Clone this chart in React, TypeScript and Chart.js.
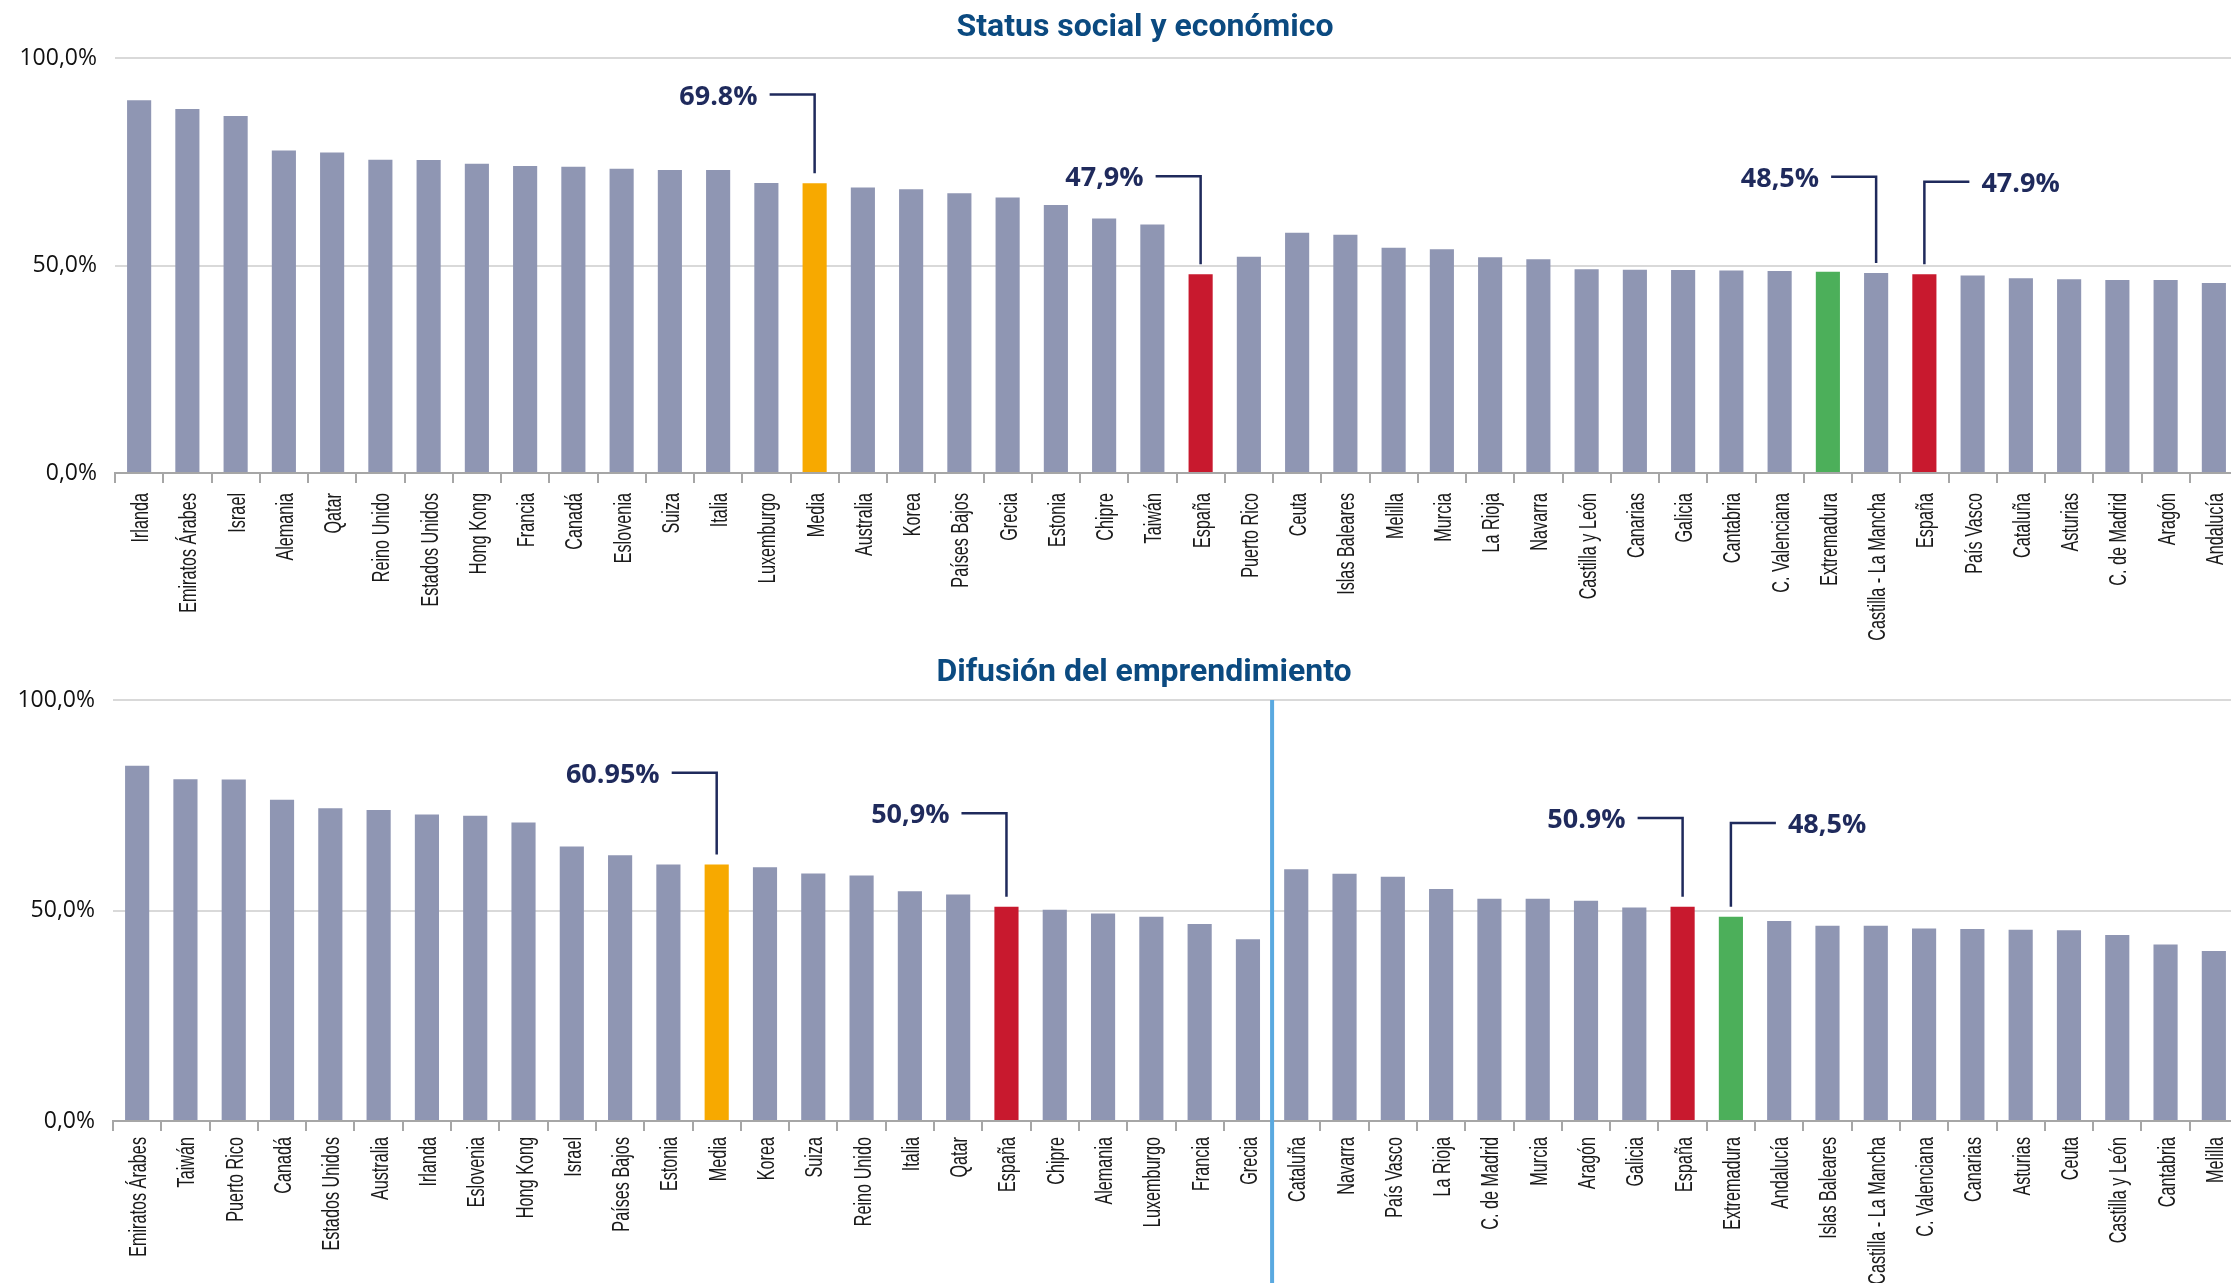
import React, { useEffect, useRef } from 'react';
import { Chart, registerables } from 'chart.js';

Chart.register(...registerables);

// ---------- DATA ----------
const topTitle = 'Status social y económico';
const topCategories = [
  'Irlanda', 'Emiratos Árabes', 'Israel', 'Alemania', 'Qatar', 'Reino Unido', 'Estados Unidos', 'Hong Kong',
  'Francia', 'Canadá', 'Eslovenia', 'Suiza', 'Italia', 'Luxemburgo', 'Media', 'Australia', 'Korea',
  'Países Bajos', 'Grecia', 'Estonia', 'Chipre', 'Taiwán', 'España', 'Puerto Rico', 'Ceuta', 'Islas Baleares',
  'Melilla', 'Murcia', 'La Rioja', 'Navarra', 'Castilla y León', 'Canarias', 'Galicia', 'Cantabria',
  'C. Valenciana', 'Extremadura', 'Castilla - La Mancha', 'España', 'País Vasco', 'Cataluña', 'Asturias',
  'C. de Madrid', 'Aragón', 'Andalucía',
];
const topValues = [
  89.8, 87.7, 86.0, 77.7, 77.2, 75.5, 75.4, 74.5,
  74.0, 73.8, 73.3, 73.0, 73.0, 69.9, 69.8, 68.8, 68.4,
  67.4, 66.4, 64.6, 61.3, 59.9, 47.9, 52.1, 57.9, 57.4,
  54.3, 53.9, 52.0, 51.5, 49.1, 49.0, 48.9, 48.8,
  48.7, 48.5, 48.2, 47.9, 47.6, 46.9, 46.7,
  46.5, 46.5, 45.8,
];
const topAnnotIndex = [14, 22, 36, 37];
const topAnnotLabel = ['69.8%', '47,9%', '48,5%', '47.9%'];
const topAnnotSide = ['left', 'left', 'left', 'right'];
const topAnnotLevel = [91.2, 71.5, 71.4, 70.2];

const bottomTitle = 'Difusión del emprendimiento';
const bottomCategories = [
  'Emiratos Árabes', 'Taiwán', 'Puerto Rico', 'Canadá', 'Estados Unidos', 'Australia', 'Irlanda', 'Eslovenia',
  'Hong Kong', 'Israel', 'Países Bajos', 'Estonia', 'Media', 'Korea', 'Suiza', 'Reino Unido', 'Italia', 'Qatar',
  'España', 'Chipre', 'Alemania', 'Luxemburgo', 'Francia', 'Grecia',
  'Cataluña', 'Navarra', 'País Vasco', 'La Rioja', 'C. de Madrid', 'Murcia', 'Aragón', 'Galicia', 'España',
  'Extremadura', 'Andalucía', 'Islas Baleares', 'Castilla - La Mancha', 'C. Valenciana', 'Canarias', 'Asturias',
  'Ceuta', 'Castilla y León', 'Cantabria', 'Melilla',
];
const bottomValues = [
  84.4, 81.2, 81.1, 76.3, 74.3, 73.9, 72.8, 72.5,
  70.9, 65.2, 63.1, 60.9, 60.95, 60.3, 58.8, 58.3, 54.6, 53.8,
  50.9, 50.2, 49.3, 48.5, 46.8, 43.2,
  59.8, 58.7, 58.0, 55.1, 52.8, 52.8, 52.3, 50.7, 50.9,
  48.5, 47.5, 46.4, 46.4, 45.7, 45.6, 45.4,
  45.3, 44.2, 41.9, 40.4,
];
const bottomAnnotIndex = [12, 18, 32, 33];
const bottomAnnotLabel = ['60.95%', '50,9%', '50.9%', '48,5%'];
const bottomAnnotSide = ['left', 'left', 'left', 'right'];
const bottomAnnotLevel = [82.7, 73.1, 72.0, 70.8];
const bottomDividerAfter = 23;

const yTickValues = [0, 50, 100];

// ---------- STYLE ----------
const BAR_GRAY = '#8f96b3';
const ORANGE = '#f7a900';
const RED = '#c8192e';
const GREEN = '#4caf5a';
const NAVY = '#1f2a5c';
const TITLE_BLUE = '#0b4a80';
const LABEL_FONT = '23px "Liberation Sans", Arial, sans-serif';
const LABEL_SQUEEZE = 0.705;
const TICK_FONT = '"Open Sans", "Liberation Sans", sans-serif';

function colorFor(label: string) {
  if (label === 'Media') return ORANGE;
  if (label === 'España') return RED;
  if (label === 'Extremadura') return GREEN;
  return BAR_GRAY;
}

type PanelCfg = {
  title: string;
  titleX: number;
  titleY: number;
  categories: string[];
  values: number[];
  annotIndex: number[];
  annotLabel: string[];
  annotSide: string[];
  annotLevel: number[];
  dividerAfter: number | null;
  chartTop: number;
  chartLeft: number;
  xAxisHeight: number;
  labelOffset: number;
};

function overlayPlugin(cfg: PanelCfg) {
  return {
    id: 'overlay',
    afterDraw(chart: any) {
      const { ctx, chartArea, scales } = chart;
      const xs = scales.x;
      const ys = scales.y;
      ctx.save();

      // category labels (rotated, condensed), positioned by the category scale
      ctx.font = LABEL_FONT;
      ctx.fillStyle = '#1a1a1a';
      ctx.textAlign = 'right';
      ctx.textBaseline = 'alphabetic';
      cfg.categories.forEach((lab, i) => {
        const x = xs.getPixelForValue(i);
        ctx.save();
        ctx.translate(x, chartArea.bottom + cfg.labelOffset);
        ctx.rotate(-Math.PI / 2);
        ctx.scale(LABEL_SQUEEZE, 1);
        ctx.fillText(lab, 0, 9);
        ctx.restore();
      });

      // title
      ctx.font = 'bold 32px Roboto, "Liberation Sans", sans-serif';
      ctx.fillStyle = TITLE_BLUE;
      ctx.textAlign = 'center';
      ctx.textBaseline = 'alphabetic';
      ctx.fillText(cfg.title, cfg.titleX, cfg.titleY);

      // divider
      if (cfg.dividerAfter !== null) {
        const px = (xs.getPixelForValue(cfg.dividerAfter) + xs.getPixelForValue(cfg.dividerAfter + 1)) / 2;
        ctx.strokeStyle = '#5aa9e0';
        ctx.lineWidth = 4;
        ctx.beginPath();
        ctx.moveTo(px, chartArea.top);
        ctx.lineTo(px, chart.height);
        ctx.stroke();
      }

      // annotations
      const lineLen = 45;
      const textGap = 12;
      const barGap = 10;
      ctx.strokeStyle = NAVY;
      ctx.fillStyle = NAVY;
      ctx.lineWidth = 2.5;
      ctx.font = 'bold 27px "Open Sans", "Liberation Sans", sans-serif';
      cfg.annotIndex.forEach((idx, i) => {
        const x = xs.getPixelForValue(idx);
        const yLine = ys.getPixelForValue(cfg.annotLevel[i]);
        const yEnd = ys.getPixelForValue(cfg.values[idx]) - barGap;
        ctx.beginPath();
        if (cfg.annotSide[i] === 'left') {
          ctx.moveTo(x - lineLen, yLine);
          ctx.lineTo(x, yLine);
          ctx.lineTo(x, yEnd);
          ctx.stroke();
          ctx.textAlign = 'right';
          ctx.fillText(cfg.annotLabel[i], x - lineLen - textGap, yLine + 10);
        } else {
          ctx.moveTo(x, yEnd);
          ctx.lineTo(x, yLine);
          ctx.lineTo(x + lineLen, yLine);
          ctx.stroke();
          ctx.textAlign = 'left';
          ctx.fillText(cfg.annotLabel[i], x + lineLen + textGap, yLine + 10);
        }
      });
      ctx.restore();
    },
  };
}

function makeChart(canvas: HTMLCanvasElement, cfg: PanelCfg) {
  return new Chart(canvas, {
    type: 'bar',
    data: {
      labels: cfg.categories,
      datasets: [
        {
          data: cfg.values,
          backgroundColor: cfg.categories.map(colorFor),
          barPercentage: 0.5,
          categoryPercentage: 1.0,
        },
      ],
    },
    options: {
      responsive: false,
      maintainAspectRatio: false,
      animation: false,
      layout: { padding: { top: cfg.chartTop, left: 0, right: 0, bottom: 0 } },
      plugins: {
        legend: { display: false },
        tooltip: { enabled: false },
        title: { display: false },
      },
      scales: {
        x: {
          type: 'category',
          grid: {
            display: true,
            drawOnChartArea: false,
            drawTicks: true,
            tickLength: 10,
            color: '#a6a6a6',
            lineWidth: 2,
            offset: true,
          },
          border: { display: true, color: '#a6a6a6', width: 2 },
          ticks: {
            display: false,
            autoSkip: false,
            minRotation: 90,
            maxRotation: 90,
          },
          afterFit: (s: any) => {
            s.height = cfg.xAxisHeight;
            s.paddingLeft = 0;
            s.paddingRight = 0;
          },
        },
        y: {
          type: 'linear',
          min: 0,
          max: 100,
          afterBuildTicks: (s: any) => {
            s.ticks = yTickValues.map((v) => ({ value: v }));
          },
          grid: {
            color: (c: any) => (c.tick && c.tick.value === 0 ? 'rgba(0,0,0,0)' : '#d9d9d9'),
            lineWidth: 2,
            drawTicks: false,
          },
          border: { display: false },
          ticks: {
            padding: 18,
            color: '#111',
            font: { family: TICK_FONT, size: 23 },
            callback: (v: any) => Number(v).toFixed(1).replace('.', ',') + '%',
          },
          afterFit: (s: any) => {
            s.width = cfg.chartLeft;
            s.paddingTop = 0;
            s.paddingBottom = 0;
          },
        },
      },
    },
    plugins: [overlayPlugin(cfg)],
  } as any);
}

const topCfg: PanelCfg = {
  title: topTitle,
  titleX: 1145,
  titleY: 36,
  categories: topCategories,
  values: topValues,
  annotIndex: topAnnotIndex,
  annotLabel: topAnnotLabel,
  annotSide: topAnnotSide,
  annotLevel: topAnnotLevel,
  dividerAfter: null,
  chartTop: 58,
  chartLeft: 115,
  xAxisHeight: 650 - 473,
  labelOffset: 20,
};

const bottomCfg: PanelCfg = {
  title: bottomTitle,
  titleX: 1144,
  titleY: 41,
  categories: bottomCategories,
  values: bottomValues,
  annotIndex: bottomAnnotIndex,
  annotLabel: bottomAnnotLabel,
  annotSide: bottomAnnotSide,
  annotLevel: bottomAnnotLevel,
  dividerAfter: bottomDividerAfter,
  chartTop: 60,
  chartLeft: 113,
  xAxisHeight: 643 - 481,
  labelOffset: 16,
};

export default function App() {
  const topRef = useRef<HTMLCanvasElement>(null);
  const botRef = useRef<HTMLCanvasElement>(null);

  useEffect(() => {
    const c1 = makeChart(topRef.current as HTMLCanvasElement, topCfg);
    const c2 = makeChart(botRef.current as HTMLCanvasElement, bottomCfg);
    return () => {
      c1.destroy();
      c2.destroy();
    };
  }, []);

  return (
    <div
      style={{
        position: 'fixed',
        left: 0,
        top: 0,
        width: 2231,
        height: 1283,
        overflow: 'hidden',
        background: '#fff',
      }}
    >
      <canvas ref={topRef} width={2238} height={650} style={{ position: 'absolute', left: 0, top: 0 }} />
      <canvas ref={botRef} width={2238} height={643} style={{ position: 'absolute', left: 0, top: 640 }} />
    </div>
  );
}
